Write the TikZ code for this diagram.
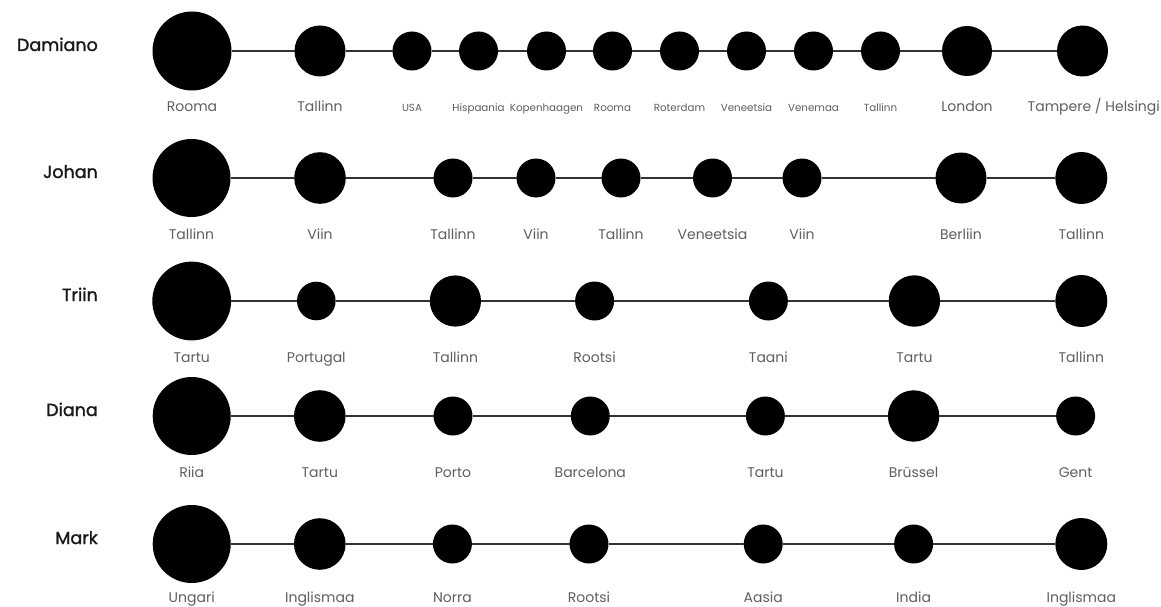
\documentclass[tikz,border=0pt]{standalone}
\usepackage{fontspec}
\setmainfont{Poppins}
\newfontfamily\namefont{Poppins}[FakeBold=1.4]
\definecolor{labc}{RGB}{95,95,95}
\definecolor{linec}{RGB}{50,50,50}
\tikzset{
  dot/.style={circle,fill=black,draw=none,inner sep=0pt,outer sep=0pt},
  conn/.style={draw=linec,line width=1.1pt},
  biglab/.style={anchor=base,text=labc,font=\fontsize{14}{15}\selectfont,inner sep=0pt},
  smalllab/.style={anchor=base,text=labc,font=\fontsize{10.3}{11}\selectfont,inner sep=0pt},
  person/.style={anchor=base east,text=black!90,font=\namefont\fontsize{17.5}{18}\selectfont,inner sep=0pt}
}
\begin{document}
\begin{tikzpicture}[x=1pt,y=-1pt]
\useasboundingbox[fill=white] (0,0) rectangle (1161,607);

% Damiano
\node[person] (nA) at (98,51) {Damiano};
\foreach \i/\x/\r/\t/\s in {1/192/39.5/Rooma/biglab,2/320/25.5/Tallinn/biglab,3/412/19.5/USA/smalllab,4/478.5/19.5/Hispaania/smalllab,5/546.5/19.5/Kopenhaagen/smalllab,6/612.5/19.5/Rooma/smalllab,7/679.5/19.5/Roterdam/smalllab,8/746.5/19.5/Veneetsia/smalllab,9/813.5/19.5/Venemaa/smalllab,10/880.5/19.5/Tallinn/smalllab,11/967/25/London/biglab}{
  \node[dot,minimum size={2*\r pt}] (A\i) at (\x,51) {};
  \node[\s] (Al\i) at (\x,112) {\t};
}
\node[dot,minimum size=51pt] (A12) at (1082.5,51) {};
\node[biglab,anchor=base east] (Al12) at (1160,112) {Tampere / Helsingi};
\foreach \i [remember=\i as \j (initially 1)] in {2,...,12} \draw[conn] (A\j) -- (A\i);

% Johan
\node[person] (nB) at (98,178) {Johan};
\foreach \i/\x/\r/\t in {1/191.5/39/Tallinn,2/320/25.8/Viin,3/453/19.5/Tallinn,4/536/19.5/Viin,5/621/19.5/Tallinn,6/712.5/19.5/Veneetsia,7/802/19.5/Viin,8/961/25.5/Berliin,9/1081.3/26/Tallinn}{
  \node[dot,minimum size={2*\r pt}] (B\i) at (\x,178) {};
  \node[biglab] (Bl\i) at (\x,239) {\t};
}
\foreach \i [remember=\i as \j (initially 1)] in {2,...,9} \draw[conn] (B\j) -- (B\i);

% Triin
\node[person] (nC) at (98,301) {Triin};
\foreach \i/\x/\r/\t in {1/191.7/39.4/Tartu,2/316.3/19.3/Portugal,3/455.4/25.6/Tallinn,4/594.6/19.5/Rootsi,5/768.4/19.5/Taani,6/914.4/25.7/Tartu,7/1081.3/26/Tallinn}{
  \node[dot,minimum size={2*\r pt}] (C\i) at (\x,301) {};
  \node[biglab] (Cl\i) at (\x,362) {\t};
}
\foreach \i [remember=\i as \j (initially 1)] in {2,...,7} \draw[conn] (C\j) -- (C\i);

% Diana
\node[person] (nD) at (98,416) {Diana};
\foreach \i/\x/\r/\t in {1/191.7/39/Riia,2/319.8/25.8/Tartu,3/453/19.5/Porto,4/590.3/19.5/Barcelona,5/765.4/19.5/Tartu,6/913.6/25.7/Brüssel,7/1075.6/19.5/Gent}{
  \node[dot,minimum size={2*\r pt}] (D\i) at (\x,416) {};
  \node[biglab] (Dl\i) at (\x,477) {\t};
}
\foreach \i [remember=\i as \j (initially 1)] in {2,...,7} \draw[conn] (D\j) -- (D\i);

% Mark
\node[person] (nE) at (98,544) {Mark};
\foreach \i/\x/\r/\t in {1/191.7/39/Ungari,2/319.8/25.8/Inglismaa,3/452.4/19.5/Norra,4/589/19.5/Rootsi,5/763.2/19.5/Aasia,6/913.6/19.5/India,7/1081.3/26/Inglismaa}{
  \node[dot,minimum size={2*\r pt}] (E\i) at (\x,544) {};
  \node[biglab] (El\i) at (\x,602) {\t};
}
\foreach \i [remember=\i as \j (initially 1)] in {2,...,7} \draw[conn] (E\j) -- (E\i);
\end{tikzpicture}
\end{document}
